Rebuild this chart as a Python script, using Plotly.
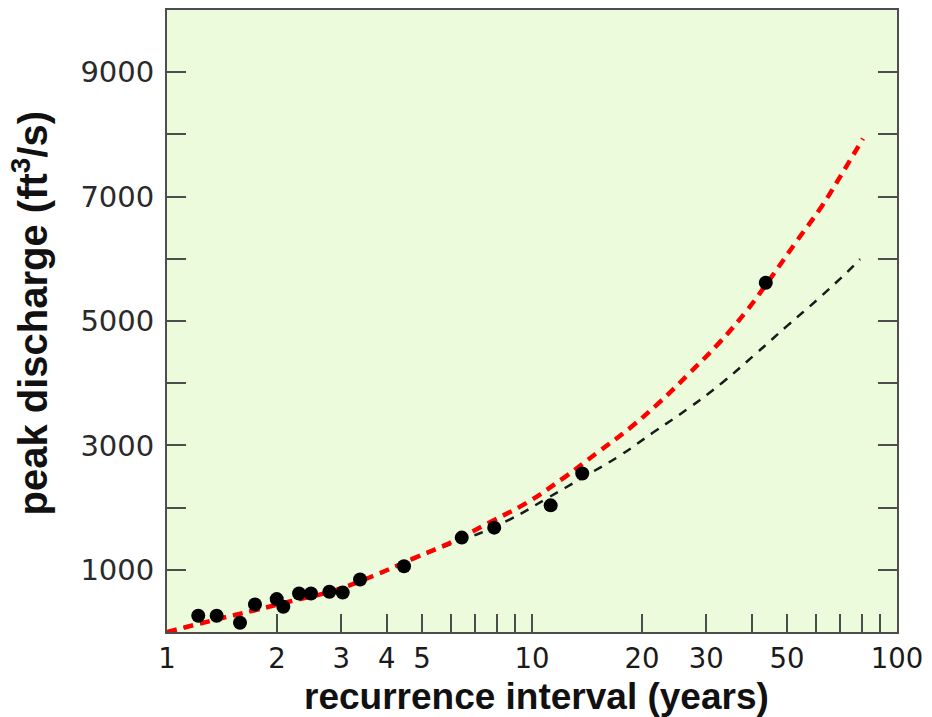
import plotly.graph_objects as go

# Observed annual peaks
obs_interval = [1.218, 1.368, 1.585, 1.742, 1.998, 2.083, 2.30, 2.48, 2.785, 3.03,
                3.38, 4.46, 6.42, 7.88, 11.25, 13.73, 43.7]
obs_discharge = [261, 261, 149, 444, 529, 406, 620, 620, 646, 636,
                 845, 1058, 1518, 1678, 2036, 2549, 5615]

# Red dashed curve
red_interval = [1, 1.34, 1.74, 2.17, 2.92, 3.67, 4.72, 6.04, 7.58, 9.69, 12.16,
                15.07, 18.55, 22.42, 27.1, 32.7, 38.8, 45.7, 53.2, 62.3, 71.2, 80.7]
red_discharge = [0, 190, 350, 490, 680, 900, 1180, 1450, 1750, 2080, 2470,
                 2880, 3280, 3700, 4170, 4660, 5170, 5740, 6290, 6850, 7400, 7933]

# Black dashed curve
blk_interval = [1, 1.34, 1.74, 2.17, 2.92, 3.67, 4.72, 6.04, 6.76, 8.71, 10.99,
                13.8, 17.42, 21.46, 26.76, 33.2, 41.3, 50, 60.8, 73.5, 79.2]
blk_discharge = [0, 190, 350, 490, 680, 900, 1170, 1420, 1523, 1811, 2148,
                 2485, 2837, 3206, 3591, 4008, 4488, 4921, 5354, 5803, 5995]

x_tickvals = [1, 2, 3, 4, 5, 6, 7, 8, 9, 10, 20, 30, 40, 50, 60, 70, 80, 90, 100]
x_ticktext = ["1", "2", "3", "4", "5", "", "", "", "", "10", "20", "30", "", "50",
              "", "", "", "", "100"]
y_tickvals = [1000, 2000, 3000, 4000, 5000, 6000, 7000, 8000, 9000]
y_ticktext = ["1000", "", "3000", "", "5000", "", "7000", "", "9000"]

x_title = "recurrence interval (years)"
y_title = "peak discharge (ft<sup>3</sup>/s)"

fig = go.Figure()
fig.add_trace(go.Scatter(x=blk_interval, y=blk_discharge, mode="lines",
                         line=dict(color="#1a1a1a", width=2.5, dash="9px,8px",
                                   shape="spline", smoothing=1.2),
                         showlegend=False, hoverinfo="skip"))
fig.add_trace(go.Scatter(x=red_interval, y=red_discharge, mode="lines",
                         line=dict(color="#ff0000", width=4.5, dash="10px,7px",
                                   shape="spline", smoothing=1.2),
                         showlegend=False, hoverinfo="skip"))
fig.add_trace(go.Scatter(x=obs_interval, y=obs_discharge, mode="markers",
                         marker=dict(color="black", size=14),
                         showlegend=False))

axis_color = "#4d4d4d"
fig.update_layout(
    width=924, height=709,
    margin=dict(l=159, r=35, t=0, b=85),
    paper_bgcolor="white",
    plot_bgcolor="#ecfbdb",
    font=dict(family="DejaVu Sans, sans-serif", color="#222222"),
    xaxis=dict(
        type="log", range=[0, 2],
        tickvals=x_tickvals, ticktext=x_ticktext,
        ticks="inside", ticklen=18, tickwidth=2, tickcolor=axis_color,
        showline=True, linecolor=axis_color, linewidth=2, mirror=True,
        showgrid=False, zeroline=False,
        tickfont=dict(family="DejaVu Sans", size=27.5, color="#1a1a1a"),
        ticklabelstandoff=1,
    ),
    yaxis=dict(
        range=[0, 10000],
        tickvals=y_tickvals, ticktext=y_ticktext,
        ticks="inside", ticklen=19, tickwidth=2, tickcolor=axis_color,
        showline=True, linecolor=axis_color, linewidth=2, mirror="ticks",
        showgrid=False, zeroline=False,
        tickfont=dict(family="DejaVu Sans", size=29, color="#2a2a2a"),
        ticklabelstandoff=5,
    ),
    annotations=[
        dict(text=x_title, xref="paper", yref="paper", x=0.5055, y=-0.104,
             xanchor="center", yanchor="middle", showarrow=False,
             font=dict(family="Liberation Sans", size=37, weight="bold", color="#111111")),
        dict(text=y_title, xref="paper", yref="paper", x=(22 - 159) / 730, y=0.512,
             xanchor="center", yanchor="middle", showarrow=False, textangle=-90,
             font=dict(family="Liberation Sans", size=40, weight="bold", color="#111111")),
    ],
)

fig.write_html("out.html")
